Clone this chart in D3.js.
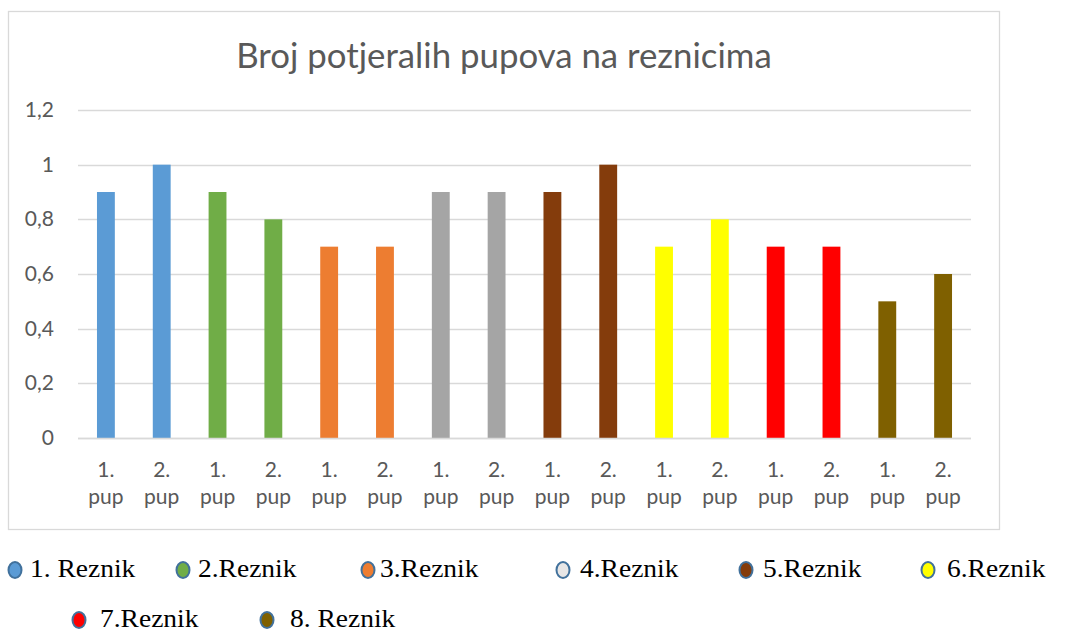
<!DOCTYPE html>
<html>
<head>
<meta charset="utf-8">
<script src="https://cdn.jsdelivr.net/npm/d3@7"></script>
<style>
  body { margin: 0; background: #fff; }
</style>
</head>
<body>
<div id="chart"></div>
<script>
// data
var categories = ["1. pup", "2. pup", "1. pup", "2. pup", "1. pup", "2. pup", "1. pup", "2. pup",
                  "1. pup", "2. pup", "1. pup", "2. pup", "1. pup", "2. pup", "1. pup", "2. pup"];
var values = [0.9, 1, 0.9, 0.8, 0.7, 0.7, 0.9, 0.9, 0.9, 1, 0.7, 0.8, 0.7, 0.7, 0.5, 0.6];
var groups = ["1. Reznik", "2.Reznik", "3.Reznik", "4.Reznik", "5.Reznik", "6.Reznik", "7.Reznik", "8. Reznik"];
var groupColors = ["#5B9BD5", "#70AD47", "#ED7D31", "#A5A5A5", "#843C0C", "#FFFF00", "#FF0000", "#7F6000"];
var legendColors = ["#5B9BD5", "#70AD47", "#ED7D31", "#E7E6E6", "#843C0C", "#FFFF00", "#FF0000", "#7F6000"];
var yTicks = [0, 0.2, 0.4, 0.6, 0.8, 1, 1.2];
var title = "Broj potjeralih pupova na reznicima";

var W = 1068, H = 634;
var svg = d3.select("#chart").append("svg")
    .attr("width", W)
    .attr("height", H);

// chart frame
svg.append("rect")
    .attr("x", 8.5).attr("y", 11.5)
    .attr("width", 991).attr("height", 518)
    .attr("fill", "#fff")
    .attr("stroke", "#D9D9D9")
    .attr("stroke-width", 1.3);

var margin = {left: 78, right: 971, top: 110, bottom: 438};

var x = d3.scaleBand()
    .domain(d3.range(values.length))
    .range([margin.left, margin.right])
    .paddingInner(0.68)
    .paddingOuter(0.34);

var y = d3.scaleLinear()
    .domain([0, 1.2])
    .range([margin.bottom, margin.top]);

// gridlines
svg.append("g")
    .selectAll("line")
    .data(yTicks)
    .enter()
    .append("line")
    .attr("x1", margin.left)
    .attr("x2", margin.right)
    .attr("y1", function(d) { return Math.round(y(d)) + 0.5; })
    .attr("y2", function(d) { return Math.round(y(d)) + 0.5; })
    .attr("stroke", "#D9D9D9")
    .attr("stroke-width", 1.3);

// y tick labels
var fmt = function(d) { return String(d).replace(".", ","); };
svg.append("g")
    .selectAll("text")
    .data(yTicks)
    .enter()
    .append("text")
    .attr("x", 54)
    .attr("y", function(d) { return y(d) + 7; })
    .attr("text-anchor", "end")
    .style("font-family", "Lato, 'Open Sans', sans-serif")
    .style("font-size", "21px")
    .style("fill", "#595959")
    .text(fmt);

// bars
svg.append("g")
    .selectAll("rect")
    .data(values)
    .enter()
    .append("rect")
    .attr("x", function(d, i) { return x(i); })
    .attr("width", x.bandwidth())
    .attr("y", function(d) { return y(d); })
    .attr("height", function(d) { return y(0) - y(d); })
    .attr("fill", function(d, i) { return groupColors[Math.floor(i / 2)]; });

// x axis line on top of bars
svg.append("line")
    .attr("x1", margin.left).attr("x2", margin.right)
    .attr("y1", Math.round(y(0)) + 0.5).attr("y2", Math.round(y(0)) + 0.5)
    .attr("stroke", "#D9D9D9")
    .attr("stroke-width", 1.3);

// x labels, two lines
var xl = svg.append("g")
    .selectAll("text")
    .data(categories)
    .enter()
    .append("text")
    .attr("text-anchor", "middle")
    .style("font-family", "Lato, 'Open Sans', sans-serif")
    .style("font-size", "21px")
    .style("fill", "#595959");
xl.append("tspan")
    .attr("x", function(d, i) { return x(i) + x.bandwidth() / 2; })
    .attr("y", 477)
    .text(function(d) { return d.split(" ")[0]; });
xl.append("tspan")
    .attr("x", function(d, i) { return x(i) + x.bandwidth() / 2; })
    .attr("y", 504)
    .text(function(d) { return d.split(" ")[1]; });

// title
svg.append("text")
    .attr("x", 504)
    .attr("y", 68)
    .attr("text-anchor", "middle")
    .style("font-family", "Lato, 'Open Sans', sans-serif")
    .style("font-size", "34.8px")
    .style("fill", "#595959")
    .text(title);

// legend (outside the frame)
var legendPos = [
    {mx: 15, tx: 30, y: 577}, {mx: 183, tx: 198, y: 577}, {mx: 368, tx: 380, y: 577},
    {mx: 563, tx: 580, y: 577}, {mx: 746, tx: 763, y: 577}, {mx: 928, tx: 947, y: 577},
    {mx: 79, tx: 100, y: 627}, {mx: 267, tx: 290, y: 627}
];
var lg = svg.append("g")
    .selectAll("g")
    .data(groups)
    .enter()
    .append("g");
lg.append("ellipse")
    .attr("cx", function(d, i) { return legendPos[i].mx; })
    .attr("cy", function(d, i) { return legendPos[i].y - 7; })
    .attr("rx", 6.5)
    .attr("ry", 8)
    .attr("fill", function(d, i) { return legendColors[i]; })
    .attr("stroke", "#41719C")
    .attr("stroke-width", 2);
lg.append("text")
    .attr("x", function(d, i) { return legendPos[i].tx; })
    .attr("y", function(d, i) { return legendPos[i].y; })
    .attr("transform", function(d, i) {
        // reference text is slightly wider than plain Times
        return "translate(" + legendPos[i].tx + ",0) scale(1.1,1) translate(" + (-legendPos[i].tx) + ",0)";
    })
    .style("font-family", "'Liberation Serif', 'Times New Roman', serif")
    .style("font-size", "25px")
    .style("fill", "#000")
    .text(function(d) { return d; });
</script>
</body>
</html>
